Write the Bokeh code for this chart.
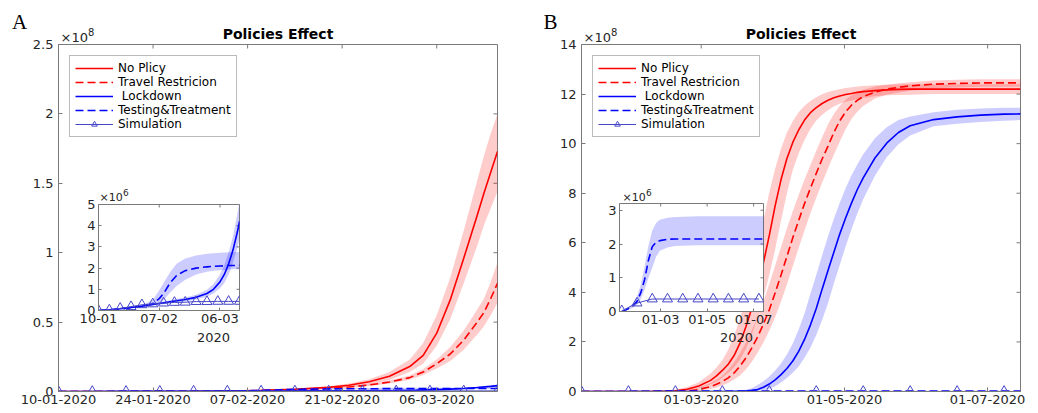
import numpy as np
from bokeh.plotting import figure
from bokeh.models import Range1d, FixedTicker, Label, Legend
from bokeh.layouts import row
from bokeh.embed import file_html
from bokeh.resources import INLINE

# ---------------- data (days since 10-01-2020) ----------------
# Panel A main (values x1e8)
left_days = [0, 10, 20, 25, 30, 35, 40, 43, 46, 49, 52, 54, 56, 58, 60, 62, 63, 64, 65]
no_policy_l = [0, 0.0005, 0.002, 0.004, 0.008, 0.016, 0.03, 0.045, 0.07, 0.11, 0.18, 0.26, 0.42, 0.66, 0.96, 1.27, 1.43, 1.58, 1.73]
no_policy_l_hi = [0, 0.0006, 0.0025, 0.005, 0.01, 0.02, 0.038, 0.057, 0.088, 0.14, 0.23, 0.35, 0.55, 0.82, 1.16, 1.52, 1.7, 1.86, 2.0]
no_policy_l_lo = [0, 0.0004, 0.0016, 0.003, 0.006, 0.012, 0.023, 0.034, 0.053, 0.083, 0.14, 0.2, 0.33, 0.52, 0.78, 1.05, 1.2, 1.32, 1.44]
travel_l = [0, 0.0004, 0.0016, 0.003, 0.006, 0.012, 0.022, 0.032, 0.047, 0.068, 0.1, 0.14, 0.2, 0.27, 0.37, 0.5, 0.57, 0.67, 0.78]
travel_l_hi = [0, 0.0005, 0.002, 0.0035, 0.007, 0.014, 0.026, 0.037, 0.055, 0.079, 0.116, 0.162, 0.23, 0.32, 0.44, 0.59, 0.67, 0.79, 0.93]
travel_l_lo = [0, 0.0003, 0.0013, 0.0025, 0.005, 0.01, 0.019, 0.027, 0.04, 0.058, 0.085, 0.119, 0.165, 0.22, 0.3, 0.41, 0.47, 0.55, 0.64]

# Panel A inset (values x1e6)
inset_days_l = [0, 5, 10, 15, 20, 25, 28, 30, 33, 36, 40, 45, 50, 53, 56, 58, 60, 62, 64, 65]
lockdown_l = [0, 0.03, 0.08, 0.14, 0.2, 0.28, 0.33, 0.36, 0.41, 0.46, 0.52, 0.62, 0.8, 1.0, 1.35, 1.7, 2.2, 2.85, 3.7, 4.2]
lockdown_l_hi = [0, 0.04, 0.1, 0.17, 0.24, 0.33, 0.39, 0.42, 0.48, 0.54, 0.61, 0.74, 0.98, 1.25, 1.7, 2.15, 2.75, 3.5, 4.55, 5.1]
lockdown_l_lo = [0, 0.02, 0.06, 0.11, 0.16, 0.23, 0.27, 0.3, 0.34, 0.38, 0.44, 0.52, 0.65, 0.8, 1.05, 1.3, 1.7, 2.25, 2.95, 3.4]
testing_l = [0, 0.03, 0.08, 0.14, 0.2, 0.32, 0.56, 0.8, 1.3, 1.65, 1.88, 2.0, 2.06, 2.08, 2.1, 2.11, 2.12, 2.12, 2.13, 2.13]
testing_l_hi = [0, 0.04, 0.1, 0.17, 0.25, 0.5, 0.95, 1.3, 1.8, 2.2, 2.45, 2.6, 2.68, 2.7, 2.72, 2.73, 2.75, 2.75, 2.76, 2.76]
testing_l_lo = [0, 0.02, 0.06, 0.11, 0.16, 0.25, 0.35, 0.5, 0.85, 1.15, 1.45, 1.7, 1.83, 1.87, 1.9, 1.91, 1.93, 1.94, 1.95, 1.95]
sim_days_l = [0, 5, 10, 15, 20, 25, 30, 35, 40, 45, 50, 55, 60, 65]
sim_l = [0.0, 0.02, 0.1, 0.18, 0.27, 0.31, 0.35, 0.38, 0.39, 0.42, 0.42, 0.43, 0.43, 0.43]

# Panel B main (values x1e8)
right_days = [0, 10, 20, 30, 35, 40, 45, 50, 55,
              57.5, 60, 62.5, 65, 67.5, 70, 72.5, 75, 77.5, 80, 82.5, 85, 87.5, 90, 92.5, 95,
              97.5, 100, 102.5, 105, 107.5, 110, 112.5, 115, 117.5, 120,
              125, 130, 135, 140, 150, 160, 170, 180, 187]
no_policy_r = [0, 0, 0.001, 0.005, 0.012, 0.03, 0.09, 0.22, 0.45,
               0.63, 0.85, 1.1, 1.45, 1.95, 2.6, 3.35, 4.2, 5.2, 6.3, 7.5, 8.55, 9.4, 10.05, 10.55, 10.95,
               11.25, 11.45, 11.62, 11.75, 11.85, 11.92, 11.98, 12.02, 12.07, 12.1,
               12.14, 12.17, 12.19, 12.2, 12.2, 12.2, 12.2, 12.2, 12.2]
no_policy_r_hi = [0, 0, 0.002, 0.01, 0.024, 0.07, 0.18, 0.37, 0.73,
                  0.97, 1.26, 1.68, 2.25, 2.95, 3.75, 4.68, 5.75, 6.9, 8.04, 9.0, 9.8, 10.45, 10.9, 11.27, 11.53,
                  11.72, 11.87, 11.99, 12.08, 12.14, 12.19, 12.24, 12.28, 12.31, 12.33,
                  12.36, 12.38, 12.39, 12.4, 12.4, 12.4, 12.4, 12.4, 12.4]
no_policy_r_lo = [0, 0, 0, 0.002, 0.006, 0.015, 0.045, 0.12, 0.28,
                  0.39, 0.55, 0.75, 0.98, 1.28, 1.71, 2.29, 2.99, 3.78, 4.7, 5.74, 6.9, 8.0, 8.94, 9.6, 10.15,
                  10.59, 10.93, 11.17, 11.35, 11.5, 11.61, 11.69, 11.74, 11.8, 11.84,
                  11.91, 11.95, 11.96, 11.97, 12.0, 12.0, 12.0, 12.0, 12.0]
travel_r = [0, 0, 0, 0.001, 0.002, 0.005, 0.02, 0.08, 0.2,
            0.29, 0.4, 0.55, 0.75, 1.02, 1.35, 1.75, 2.2, 2.72, 3.3, 3.98, 4.7, 5.45, 6.2, 6.9, 7.58,
            8.2, 8.8, 9.38, 9.9, 10.45, 10.92, 11.28, 11.55, 11.75, 11.9,
            12.08, 12.2, 12.27, 12.33, 12.4, 12.43, 12.45, 12.45, 12.45]
travel_r_hi = [0, 0, 0, 0.002, 0.005, 0.015, 0.06, 0.15, 0.34,
               0.47, 0.64, 0.88, 1.17, 1.54, 1.97, 2.46, 3.01, 3.64, 4.35, 5.08, 5.84, 6.58, 7.27, 7.93, 8.55,
               9.14, 9.71, 10.26, 10.78, 11.2, 11.53, 11.77, 11.95, 12.08, 12.17,
               12.31, 12.38, 12.44, 12.48, 12.55, 12.58, 12.6, 12.6, 12.6]
travel_r_lo = [0, 0, 0, 0, 0.001, 0.003, 0.012, 0.04, 0.1,
               0.16, 0.24, 0.34, 0.48, 0.65, 0.89, 1.19, 1.56, 1.98, 2.46, 3.0, 3.63, 4.32, 5.05, 5.79, 6.5,
               7.18, 7.82, 8.42, 9.0, 9.55, 10.08, 10.58, 10.99, 11.29, 11.52,
               11.82, 11.97, 12.06, 12.13, 12.23, 12.27, 12.3, 12.3, 12.3]
lockdown_r = [0, 0, 0, 0, 0, 0, 0, 0, 0,
              0, 0, 0.002, 0.005, 0.01, 0.02, 0.045, 0.08, 0.17, 0.3, 0.47, 0.68, 0.93, 1.23, 1.62, 2.1,
              2.68, 3.35, 4.13, 4.88, 5.62, 6.35, 7.0, 7.6, 8.15, 8.62,
              9.42, 10.02, 10.45, 10.72, 10.97, 11.08, 11.15, 11.19, 11.2]
lockdown_r_hi = [0, 0, 0, 0, 0, 0, 0, 0, 0,
                 0.001, 0.004, 0.008, 0.016, 0.036, 0.068, 0.13, 0.26, 0.41, 0.61, 0.85, 1.13, 1.49, 1.94, 2.5, 3.15,
                 3.94, 4.7, 5.5, 6.25, 6.97, 7.62, 8.2, 8.72, 9.16, 9.57,
                 10.22, 10.66, 10.95, 11.1, 11.27, 11.37, 11.42, 11.45, 11.45]
lockdown_r_lo = [0, 0, 0, 0, 0, 0, 0, 0, 0,
                 0, 0, 0, 0, 0, 0, 0.01, 0.03, 0.06, 0.11, 0.21, 0.36, 0.54, 0.76, 1.01, 1.36,
                 1.77, 2.28, 2.88, 3.56, 4.36, 5.1, 5.85, 6.55, 7.18, 7.76,
                 8.7, 9.45, 9.98, 10.33, 10.7, 10.8, 10.87, 10.92, 10.95]

# Panel B inset (values x1e6)
inset_days_r = [0, 5, 10, 15, 20, 25, 30, 35, 40, 45, 50, 60, 70, 80, 100, 120, 140, 160, 187]
testing_r = [0, 0.04, 0.1, 0.18, 0.3, 0.56, 0.95, 1.52, 1.92, 2.05, 2.1, 2.14, 2.15, 2.15, 2.15, 2.15, 2.15, 2.15, 2.15]
testing_r_hi = [0, 0.05, 0.13, 0.25, 0.45, 0.8, 1.35, 1.95, 2.4, 2.62, 2.72, 2.78, 2.8, 2.81, 2.82, 2.82, 2.82, 2.82, 2.82]
testing_r_lo = [0, 0.03, 0.07, 0.12, 0.2, 0.38, 0.65, 1.0, 1.3, 1.62, 1.8, 1.9, 1.94, 1.95, 1.96, 1.96, 1.96, 1.96, 1.96]
sim_days_r = [0, 20, 40, 60, 80, 100, 120, 140, 160, 180]
sim_r = [0.02, 0.25, 0.37, 0.37, 0.37, 0.37, 0.37, 0.37, 0.37, 0.37]

# ticks
left_xticks = [0, 14, 28, 42, 56]
left_xlabels = ["10-01-2020", "24-01-2020", "07-02-2020", "21-02-2020", "06-03-2020"]
left_yticks = [0, 0.5, 1, 1.5, 2, 2.5]
left_ylabels = ["0", "0.5", "1", "1.5", "2", "2.5"]
inset_l_xticks = [0, 28, 56]
inset_l_xlabels = ["10-01", "07-02", "06-03"]
inset_l_yticks = [0, 1, 2, 3, 4, 5]
right_xticks = [51, 112, 173]
right_xlabels = ["01-03-2020", "01-05-2020", "01-07-2020"]
right_yticks = [0, 2, 4, 6, 8, 10, 12, 14]
inset_r_xticks = [51, 112, 173]
inset_r_xlabels = ["01-03", "01-05", "01-07"]
inset_r_yticks = [0, 1, 2, 3]

labels = ["No Plicy", "Travel Restricion", " Lockdown", "Testing&Treatment", "Simulation"]
panel_letters = ["A", "B"]
title_text = "Policies Effect"
exp_base = "×10"
exp_main = "8"
exp_inset = "6"
year_text = "2020"

# ---------------- styling ----------------
RED = "#ff0000"
BLUE = "#0000ff"
SIM = "#4646c8"
AX = "#7a7a7a"
TXT = "#262626"
FONT = "DejaVu Sans"
W, H = 1036, 411


def no_align(p):
    if "frame_align" in p.properties():
        p.frame_align = False


def style_axis(ax, ticks, tlabels, size="13px", standoff=3, tick_in=4):
    ax.ticker = FixedTicker(ticks=ticks)
    if tlabels is not None:
        ax.major_label_overrides = {t: l for t, l in zip(ticks, tlabels)}
    ax.major_tick_in = tick_in
    ax.major_tick_out = 0
    ax.minor_tick_in = 0
    ax.minor_tick_out = 0
    ax.axis_line_color = AX
    ax.major_tick_line_color = AX
    ax.major_label_text_color = TXT
    ax.major_label_text_font = FONT
    ax.major_label_text_font_size = size
    ax.major_label_standoff = standoff


def decorate(p, xr, yr, xt, xl, yt, yl, ystand=5, tick=4):
    p.xgrid.visible = False
    p.ygrid.visible = False
    p.outline_line_color = AX
    style_axis(p.xaxis[0], xt, xl, standoff=3, tick_in=tick)
    style_axis(p.yaxis[0], yt, yl, standoff=ystand, tick_in=tick)
    # mirrored inward ticks on the top and right edges (half of each dash is clipped by the frame)
    p.scatter(x=xt, y=[yr[1]] * len(xt), marker="dash", angle=np.pi / 2, size=2 * tick,
              line_color=AX, line_width=1)
    p.scatter(x=[xr[1]] * len(yt), y=yt, marker="dash", size=2 * tick, line_color=AX, line_width=1)


def make_fig(width, height, bl, br, bt, bb, xr, yr):
    p = figure(width=width, height=height, x_range=Range1d(*xr), y_range=Range1d(*yr),
               output_backend="svg", toolbar_location=None, title=None,
               min_border_left=bl, min_border_right=br, min_border_top=bt, min_border_bottom=bb)
    p.background_fill_color = "white"
    p.border_fill_color = "white"
    no_align(p)
    return p


def add_legend(p, rs):
    leg = Legend(items=[(lab, r) for lab, r in zip(labels, rs)], location="top_left")
    leg.margin = 11
    leg.padding = 5
    leg.spacing = 0
    leg.glyph_width = 38
    leg.glyph_height = 14
    leg.label_height = 14
    leg.label_standoff = 5
    leg.label_text_font = FONT
    leg.label_text_font_size = "12px"
    leg.label_text_color = "black"
    leg.border_line_color = AX
    leg.border_line_width = 1
    leg.background_fill_color = "white"
    leg.background_fill_alpha = 1
    p.add_layout(leg)


# ---------------- Panel A ----------------
xrA, yrA = (0, 65), (0, 2.5)
pA = make_fig(519, H, 58, 22, 44, 20, xrA, yrA)
decorate(pA, xrA, yrA, left_xticks, left_xlabels, left_yticks, left_ylabels)
pA.varea(x=left_days, y1=no_policy_l_lo, y2=no_policy_l_hi, fill_color=RED, fill_alpha=0.2)
pA.varea(x=left_days, y1=travel_l_lo, y2=travel_l_hi, fill_color=RED, fill_alpha=0.2)
pA.varea(x=inset_days_l, y1=np.array(lockdown_l_lo) / 100, y2=np.array(lockdown_l_hi) / 100, fill_color=BLUE, fill_alpha=0.2)
pA.varea(x=inset_days_l, y1=np.array(testing_l_lo) / 100, y2=np.array(testing_l_hi) / 100, fill_color=BLUE, fill_alpha=0.2)
a1 = pA.line(left_days, no_policy_l, line_color=RED, line_width=1.6)
a2 = pA.line(left_days, travel_l, line_color=RED, line_width=1.6, line_dash="8 4")
a3 = pA.line(inset_days_l, np.array(lockdown_l) / 100, line_color=BLUE, line_width=1.6)
a4 = pA.line(inset_days_l, np.array(testing_l) / 100, line_color=BLUE, line_width=1.6, line_dash="8 4")
a5l = pA.line(sim_days_l, np.array(sim_l) / 100, line_color=SIM, line_width=1)
a5m = pA.scatter(sim_days_l, np.array(sim_l) / 100, marker="triangle", size=10, fill_color=None, line_color=SIM, line_width=1)
add_legend(pA, [[a1], [a2], [a3], [a4], [a5l, a5m]])

# ---------------- Panel B ----------------
xrB, yrB = (0, 187), (0, 14)
pB = make_fig(517, H, 62, 16, 44, 20, xrB, yrB)
decorate(pB, xrB, yrB, right_xticks, right_xlabels, right_yticks, None)
pB.varea(x=right_days, y1=no_policy_r_lo, y2=no_policy_r_hi, fill_color=RED, fill_alpha=0.2)
pB.varea(x=right_days, y1=travel_r_lo, y2=travel_r_hi, fill_color=RED, fill_alpha=0.2)
pB.varea(x=right_days, y1=lockdown_r_lo, y2=lockdown_r_hi, fill_color=BLUE, fill_alpha=0.2)
b1 = pB.line(right_days, no_policy_r, line_color=RED, line_width=1.6)
b2 = pB.line(right_days, travel_r, line_color=RED, line_width=1.6, line_dash="8 4")
b3 = pB.line(right_days, lockdown_r, line_color=BLUE, line_width=1.6)
b4 = pB.line(inset_days_r, np.array(testing_r) / 100, line_color=BLUE, line_width=1.6, line_dash="8 4")
b5l = pB.line(sim_days_r, np.array(sim_r) / 100, line_color=SIM, line_width=1)
b5m = pB.scatter(sim_days_r, np.array(sim_r) / 100, marker="triangle", size=10, fill_color=None, line_color=SIM, line_width=1)
add_legend(pB, [[b1], [b2], [b3], [b4], [b5l, b5m]])

# ---------------- insets ----------------
xrIA, yrIA = (0, 65), (0, 5)
iA = make_fig(175, 161, 26, 8, 17, 38, xrIA, yrIA)
iA.border_fill_color = None
decorate(iA, xrIA, yrIA, inset_l_xticks, inset_l_xlabels, inset_l_yticks, None, ystand=3, tick=3)
iA.varea(x=inset_days_l, y1=lockdown_l_lo, y2=lockdown_l_hi, fill_color=BLUE, fill_alpha=0.2)
iA.varea(x=inset_days_l, y1=testing_l_lo, y2=testing_l_hi, fill_color=BLUE, fill_alpha=0.2)
iA.line(inset_days_l, lockdown_l, line_color=BLUE, line_width=1.6)
iA.line(inset_days_l, testing_l, line_color=BLUE, line_width=1.6, line_dash="8 4")
iA.line(sim_days_l, sim_l, line_color=SIM, line_width=1)
iA.scatter(sim_days_l, sim_l, marker="triangle", size=10, fill_color=None, line_color=SIM, line_width=1)

xrIB, yrIB = (-3, 186), (0, 3.2)
iB = make_fig(180, 163, 26, 10, 17, 38, xrIB, yrIB)
iB.border_fill_color = None
decorate(iB, xrIB, yrIB, inset_r_xticks, inset_r_xlabels, inset_r_yticks, None, ystand=3, tick=3)
iB.varea(x=inset_days_r, y1=testing_r_lo, y2=testing_r_hi, fill_color=BLUE, fill_alpha=0.2)
iB.line(inset_days_r, testing_r, line_color=BLUE, line_width=1.6, line_dash="8 4")
iB.line(sim_days_r, sim_r, line_color=SIM, line_width=1)
iB.scatter(sim_days_r, sim_r, marker="triangle", size=10, fill_color=None, line_color=SIM, line_width=1)

iA.styles = {"position": "absolute", "left": "72px", "top": "187px", "z-index": "5"}
iB.styles = {"position": "absolute", "left": "593px", "top": "186px", "z-index": "5"}

# ---------------- text overlay (page pixel coordinates, y from top) ----------------
ov = figure(width=W, height=H, x_range=Range1d(0, W), y_range=Range1d(H, 0),
            output_backend="svg", toolbar_location=None, title=None,
            x_axis_location=None, y_axis_location=None,
            min_border_left=0, min_border_right=0, min_border_top=0, min_border_bottom=0)
no_align(ov)
ov.xgrid.visible = False
ov.ygrid.visible = False
ov.outline_line_color = None
ov.background_fill_alpha = 0
ov.border_fill_alpha = 0
ov.styles = {"position": "absolute", "left": "0px", "top": "0px", "z-index": "10", "pointer-events": "none"}


def txt(x, y, text, size="13px", font=FONT, style="normal", align="left", color=TXT):
    ov.add_layout(Label(x=x, y=y, text=text, text_align=align, text_baseline="middle",
                        text_font=font, text_font_size=size, text_font_style=style, text_color=color))


txt(19, 21, panel_letters[0], size="21px", font="Liberation Serif", align="center", color="black")
txt(550, 21, panel_letters[1], size="21px", font="Liberation Serif", align="center", color="black")
txt(277.5, 33, title_text, size="14px", style="bold", align="center", color="black")
txt(800.5, 33, title_text, size="14px", style="bold", align="center", color="black")
# exponent labels: "×10" with a raised smaller power digit
txt(60, 37, exp_base)
txt(87.5, 31, exp_main, size="10px")
txt(583, 37, exp_base)
txt(610.5, 31, exp_main, size="10px")
txt(99, 197, exp_base, size="11px")
txt(122.5, 192, exp_inset, size="9px")
txt(622, 197, exp_base, size="11px")
txt(645.5, 192, exp_inset, size="9px")
txt(213, 337, year_text, align="center")
txt(736, 337, year_text, align="center")

root = row(pA, pB, iA, iB, ov)

open("out.html", "w").write(file_html(root, INLINE))
